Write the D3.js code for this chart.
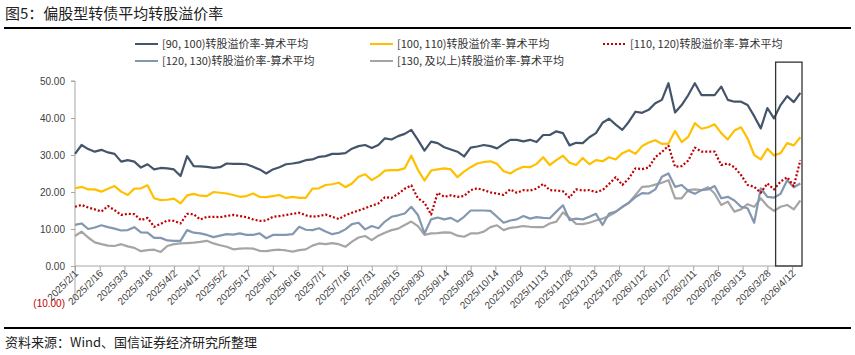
<!DOCTYPE html>
<html><head><meta charset="utf-8">
<script src="https://cdn.jsdelivr.net/npm/d3@7"></script>
<style>
html,body{margin:0;padding:0;background:#fff;}
svg{display:block;font-family:"Noto Sans CJK SC","Liberation Sans",sans-serif;}
</style></head>
<body><svg id="c" width="855" height="355"></svg>
<script>
const dates = ["2025-02-01","2025-02-05","2025-02-09","2025-02-13","2025-02-17","2025-02-21","2025-02-25","2025-03-01","2025-03-05","2025-03-09",
"2025-03-13","2025-03-17","2025-03-21","2025-03-25","2025-03-29","2025-04-02","2025-04-06","2025-04-10","2025-04-14","2025-04-18",
"2025-04-22","2025-04-26","2025-04-30","2025-05-04","2025-05-08","2025-05-12","2025-05-16","2025-05-20","2025-05-24","2025-05-28",
"2025-06-01","2025-06-05","2025-06-09","2025-06-13","2025-06-17","2025-06-21","2025-06-25","2025-06-29",
"2025-07-03","2025-07-07","2025-07-11","2025-07-15","2025-07-19","2025-07-23","2025-07-27","2025-07-31","2025-08-04","2025-08-08",
"2025-08-12","2025-08-16","2025-08-20","2025-08-24","2025-08-28","2025-09-01","2025-09-05","2025-09-09","2025-09-13","2025-09-17",
"2025-09-21","2025-09-25","2025-09-29","2025-10-03","2025-10-07","2025-10-11","2025-10-15","2025-10-19","2025-10-23","2025-10-27",
"2025-10-31","2025-11-04","2025-11-08","2025-11-12","2025-11-16","2025-11-20","2025-11-24",
"2025-11-28","2025-12-02","2025-12-06","2025-12-10","2025-12-14","2025-12-18","2025-12-22","2025-12-26","2025-12-30","2026-01-03",
"2026-01-07","2026-01-11","2026-01-15","2026-01-19","2026-01-23","2026-01-27","2026-01-31","2026-02-04","2026-02-08","2026-02-12",
"2026-02-16","2026-02-20","2026-02-24","2026-02-28","2026-03-04","2026-03-08","2026-03-12","2026-03-16","2026-03-20","2026-03-24",
"2026-03-28","2026-04-01","2026-04-05","2026-04-09","2026-04-13","2026-04-17"];

const s90_100 = [30.3,32.7,31.6,30.9,31.4,30.7,30.3,28.2,28.6,28.2, 26.6,27.5,26.1,26.5,26.4,26.1,24.3,29.7,27.0,26.9, 26.8,26.5,26.7,27.7,27.6,27.6,27.5,26.8,26.1,25.0, 26.1,26.7,27.5,27.7,28.0,28.6,28.8,29.5,
29.7,30.3,30.3,30.5,31.7,32.4,32.7,31.9,32.7,34.5, 34.2,35.1,35.7,36.8,34.1,31.2,33.6,33.2,32.1,31.5, 30.9,29.6,32.0,32.3,32.7,32.4,31.8,33.0,34.1,34.1, 33.7,34.1,33.5,35.4,35.4,36.4,35.9,
32.6,33.3,33.2,34.8,35.9,38.7,39.8,38.2,36.8,39.0, 41.7,41.4,42.2,44.0,44.9,49.4,41.5,43.5,46.2,49.4, 46.2,46.2,46.2,48.5,44.9,44.4,44.4,43.5,40.5,37.2, 42.7,39.9,43.5,45.9,44.3,46.8];

const s100_110 = [21.0,21.4,20.7,20.7,20.1,20.9,21.6,20.1,19.2,20.9, 21.0,21.8,18.3,17.8,17.9,18.2,16.9,19.1,19.5,19.0, 18.9,20.0,19.8,19.6,19.2,18.7,18.9,19.6,18.7,18.6, 18.9,19.2,18.4,18.7,18.4,18.4,20.9,21.0,
21.9,22.1,22.5,21.3,22.3,24.1,24.8,23.2,24.3,25.8, 25.9,25.9,26.4,29.8,26.0,23.1,25.8,26.1,26.4,26.1, 24.0,25.5,26.7,27.7,28.1,28.3,27.6,25.6,25.0,26.1, 26.8,26.7,27.6,29.4,27.3,28.6,29.8,
27.9,27.3,29.2,27.5,28.6,28.3,29.4,28.8,30.5,31.3, 30.3,32.4,33.4,34.0,33.0,33.1,36.5,33.5,34.9,38.6, 37.1,37.5,38.3,35.9,34.2,36.6,37.5,34.5,30.0,28.8, 31.7,29.9,30.5,33.2,32.6,34.8];

const s110_120 = [16.0,16.5,15.8,15.3,14.7,16.2,15.1,13.8,14.1,14.0, 12.4,13.0,10.6,11.4,12.3,12.2,11.5,14.1,14.0,12.6, 13.3,13.3,13.2,13.5,13.8,13.5,13.2,12.6,12.2,12.3, 13.3,13.5,13.8,14.1,14.4,13.7,13.3,13.5,
13.9,13.3,12.7,13.7,14.4,15.0,15.6,16.3,16.9,18.6, 18.4,19.5,20.9,21.8,18.3,17.1,13.9,19.8,18.7,19.1, 18.7,18.9,20.5,21.0,20.5,19.9,19.6,19.2,20.7,19.8, 20.5,20.4,20.9,22.2,20.5,20.4,20.2,
18.5,20.7,20.4,20.5,20.0,20.5,22.2,24.0,21.9,23.7, 26.4,26.2,26.6,29.4,30.8,32.5,26.8,27.0,28.5,32.0, 30.9,30.9,30.9,27.3,27.7,26.7,24.6,21.9,21.4,19.8, 22.3,20.7,22.8,24.0,21.6,28.6];

const s120_130 = [11.1,11.5,10.0,10.4,11.0,10.5,10.1,9.6,9.7,10.5, 9.1,9.0,7.6,7.6,6.9,6.8,6.8,9.7,9.0,8.8, 8.4,7.8,8.2,8.6,8.5,8.8,8.4,8.4,8.8,7.5, 8.4,8.4,8.4,8.6,10.6,9.8,9.7,10.2,
9.3,8.6,9.0,9.9,11.3,11.7,9.9,10.8,10.2,12.0, 13.3,13.7,14.2,16.0,13.8,8.8,12.6,13.1,12.6,13.0, 12.0,13.3,15.0,15.0,15.0,14.9,13.3,11.7,12.3,12.6, 13.5,12.8,13.2,13.0,12.9,14.7,16.4,
12.4,12.8,12.6,13.3,14.1,11.1,14.2,14.7,16.0,17.1, 18.6,19.7,19.6,20.7,24.1,25.0,21.4,21.9,20.3,19.5, 20.5,20.7,21.6,18.3,18.7,17.7,16.0,15.6,11.7,21.0, 18.7,18.5,19.5,23.2,21.3,22.3];

const s130_up = [8.1,9.3,7.7,6.4,5.9,5.5,5.4,5.9,5.3,4.9, 4.0,4.3,4.4,3.8,5.4,5.9,6.1,6.2,6.3,6.5, 6.8,6.1,5.6,5.2,4.5,4.7,4.8,4.7,4.1,4.0, 4.3,4.4,4.2,3.9,4.3,4.5,5.5,6.1,
5.9,6.2,5.9,5.2,6.6,7.7,8.1,7.0,8.2,9.0, 9.7,10.1,11.1,12.0,10.8,8.4,8.8,8.9,9.1,9.0, 8.2,7.9,8.8,8.8,9.3,10.5,11.0,9.7,10.3,10.5, 10.8,10.6,10.5,10.5,11.5,12.0,14.5,
13.0,11.4,11.3,11.7,12.3,12.8,13.6,14.6,15.9,17.1, 19.2,21.4,21.5,22.0,22.5,23.2,18.3,18.3,20.5,20.7, 20.5,21.3,19.6,16.5,17.4,14.7,15.3,16.7,16.0,18.3, 16.2,14.9,16.0,16.5,15.3,17.7];

const seriesNames = ["[90, 100)转股溢价率-算术平均","[100, 110)转股溢价率-算术平均","[110, 120)转股溢价率-算术平均","[120, 130)转股溢价率-算术平均","[130, 及以上)转股溢价率-算术平均"];
const seriesColors = ["#44546A","#FFC000","#C00000","#8497B0","#A5A5A5"];
const xTickLabels = ["2025/2/1","2025/2/16","2025/3/3","2025/3/18","2025/4/2","2025/4/17","2025/5/2","2025/5/17","2025/6/1","2025/6/16",
"2025/7/1","2025/7/16","2025/7/31","2025/8/15","2025/8/30","2025/9/14","2025/9/29","2025/10/14","2025/10/29","2025/11/13",
"2025/11/28","2025/12/13","2025/12/28","2026/1/12","2026/1/27","2026/2/11","2026/2/26","2026/3/13","2026/3/28","2026/4/12"];
const yTicks = [-10,0,10,20,30,40,50];
const highlightStart = "2026-04-02";

const svg = d3.select("#c");
const parse = d3.timeParse("%Y-%m-%d");
const parseTick = d3.timeParse("%Y/%m/%d");
const X = dates.map(parse);

const x = d3.scaleTime().domain([parse("2025-02-01"), parse("2026-04-18")]).range([75, 802]);
const y = d3.scaleLinear().domain([-10, 50]).range([303, 81]);

// title
svg.append("text").attr("x",5).attr("y",19).attr("font-size",15).attr("fill","#222").text("图5：偏股型转债平均转股溢价率");
svg.append("line").attr("x1",4).attr("x2",851).attr("y1",28).attr("y2",28).attr("stroke","#000").attr("stroke-width",2);

// bottom source
svg.append("line").attr("x1",4).attr("x2",851).attr("y1",328).attr("y2",328).attr("stroke","#000").attr("stroke-width",2);
svg.append("text").attr("x",5).attr("y",347).attr("font-size",13).attr("fill","#222").text("资料来源：Wind、国信证券经济研究所整理");

// y axis
const yAxis = d3.axisLeft(y).tickValues(yTicks).tickSize(4).tickPadding(6)
  .tickFormat(v => v < 0 ? "(" + d3.format(".2f")(-v) + ")" : d3.format(".2f")(v));
const gy = svg.append("g").attr("transform","translate(75,0)").call(yAxis);
gy.select(".domain").attr("stroke","#A6A6A6").attr("d","M-4,"+y(50)+"H0V"+y(-10));
gy.selectAll(".tick line").attr("stroke","#A6A6A6");
gy.selectAll(".tick text").attr("font-size",10).attr("font-family","Liberation Sans, sans-serif")
  .attr("fill", d => d < 0 ? "#C00000" : "#404040");
gy.selectAll(".tick").filter(d => d === -10).select("line").remove();

// x axis at y=0
const xAxis = d3.axisBottom(x).tickValues(xTickLabels.map(parseTick)).tickSize(5).tickFormat("");
const gx = svg.append("g").attr("transform","translate(0,"+y(0)+")").call(xAxis);
gx.select(".domain").attr("stroke","#A6A6A6").attr("d","M75,0H802");
gx.selectAll(".tick line").attr("stroke","#A6A6A6");
svg.append("g").selectAll("text").data(xTickLabels).join("text")
  .attr("transform", d => "translate(" + (x(parseTick(d)) + 4) + "," + (y(0) + 8) + ") rotate(-45)")
  .attr("text-anchor","end").attr("font-size",10).attr("font-family","Liberation Sans, sans-serif")
  .attr("fill","#404040").text(d => d);

// lines
const allSeries = [s90_100, s100_110, s110_120, s120_130, s130_up];
const line = d3.line().x((d,i) => x(X[i])).y(d => y(d));
[4,3,2,1,0].forEach(k => {
  svg.append("path").datum(allSeries[k]).attr("d", line).attr("fill","none")
    .attr("stroke", seriesColors[k]).attr("stroke-width", 2.2)
    .attr("stroke-linejoin","round")
    .attr("stroke-dasharray", k === 2 ? "2,2" : null);
});

// highlight box
svg.append("rect").attr("x", x(parse(highlightStart))).attr("y", y(55.1))
  .attr("width", x.range()[1] - x(parse(highlightStart))).attr("height", y(0) - y(55.1))
  .attr("fill","none").attr("stroke","#333").attr("stroke-width",1.3);

// legend
const legPos = [[135,44],[370,44],[603,44],[135,61],[370,61]];
seriesNames.forEach((n,k) => {
  const [lx,ly] = legPos[k];
  svg.append("line").attr("x1",lx).attr("x2",lx+23).attr("y1",ly).attr("y2",ly)
    .attr("stroke",seriesColors[k]).attr("stroke-width",2)
    .attr("stroke-dasharray", k === 2 ? "2,2" : null);
  svg.append("text").attr("x",lx+27).attr("y",ly+4).attr("font-size",11).attr("fill","#333").text(n);
});
</script></body></html>
